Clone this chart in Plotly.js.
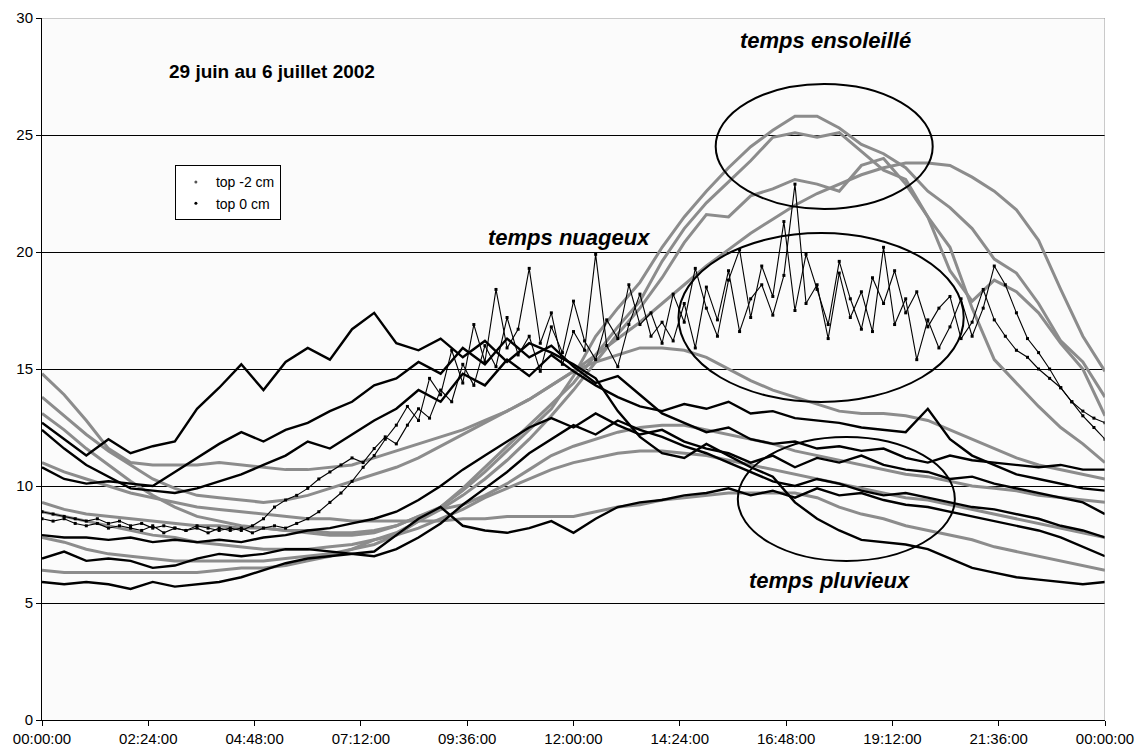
<!DOCTYPE html>
<html>
<head>
<meta charset="utf-8">
<script src="https://cdn.plot.ly/plotly-3.0.1.min.js"></script>
<style>
  html, body { margin: 0; padding: 0; background: #fff; }
  #plotly { width: 1140px; height: 753px; }
</style>
</head>
<body>
<div id="plotly"></div>
<script>
// time of day in hours (half-hour and quarter-hour readings)
var hours30 = [0,0.5,1,1.5,2,2.5,3,3.5,4,4.5,5,5.5,6,6.5,7,7.5,8,8.5,9,9.5,10,10.5,11,11.5,12,12.5,13,13.5,14,14.5,15,15.5,16,16.5,17,17.5,18,18.5,19,19.5,20,20.5,21,21.5,22,22.5,23,23.5,24];
var hours15 = [0,0.25,0.5,0.75,1,1.25,1.5,1.75,2,2.25,2.5,2.75,3,3.25,3.5,3.75,4,4.25,4.5,4.75,5,5.25,5.5,5.75,6,6.25,6.5,6.75,7,7.25,7.5,7.75,8,8.25,8.5,8.75,9,9.25,9.5,9.75,10,10.25,10.5,10.75,11,11.25,11.5,11.75,12,12.25,12.5,12.75,13,13.25,13.5,13.75,14,14.25,14.5,14.75,15,15.25,15.5,15.75,16,16.25,16.5,16.75,17,17.25,17.5,17.75,18,18.25,18.5,18.75,19,19.25,19.5,19.75,20,20.25,20.5,20.75,21,21.25,21.5,21.75,22,22.25,22.5,22.75,23,23.25,23.5,23.75,24];

var tickVals = [0,2.4,4.8,7.2,9.6,12,14.4,16.8,19.2,21.6,24];
var tickLabels = ['00:00:00','02:24:00','04:48:00','07:12:00','09:36:00','12:00:00','14:24:00','16:48:00','19:12:00','21:36:00','00:00:00'];

// top -2 cm, one day per array
var sub1 = [14.8,13.9, 12.8,11.6, 11.0,10.9, 10.9,10.9, 11.0,10.9, 10.8,10.7, 10.7,10.8, 10.9,11.2, 11.5,11.8, 12.1,12.4, 12.8,13.2, 13.7,14.3, 14.9,15.6, 16.3,17.0, 17.8,18.6, 19.4,20.1, 20.8,21.4, 22.0,22.5, 22.9,23.3, 23.6,23.8, 23.8,23.7, 23.2,22.6, 21.8,20.5, 18.4,16.4, 14.9];
var sub2 = [9.3,9.0, 8.8,8.7, 8.6,8.5, 8.4,8.3, 8.3,8.2, 8.2,8.1, 8.1,8.0, 8.0,8.1, 8.3,8.7, 9.1,9.8, 10.6,11.5, 12.4,13.3, 14.7,16.4, 17.6,18.7, 20.2,21.5, 22.6,23.6, 24.5,25.2, 25.8,25.8, 25.3,24.6, 24.2,23.6, 22.6,21.9, 21.0,19.7, 19.1,17.8, 16.2,15.3, 13.8];
var sub3 = [7.8,7.6, 7.3,7.1, 7.0,6.9, 6.8,6.8, 6.8,6.8, 6.8,6.9, 7.0,7.1, 7.3,7.5, 7.9,8.5, 9.1,9.9, 10.8,11.7, 12.6,13.5, 14.4,15.6, 16.8,17.9, 19.6,21.0, 22.1,23.0, 23.9,24.9, 25.1,24.9, 25.1,24.3, 23.5,23.1, 21.5,19.2, 17.9,18.8, 18.3,17.4, 16.1,15.0, 13.0];
var sub4 = [6.4,6.3, 6.3,6.3, 6.3,6.3, 6.3,6.3, 6.4,6.5, 6.5,6.6, 6.8,7.0, 7.3,7.7, 8.0,8.5, 9.0,9.6, 10.3,11.1, 12.0,13.0, 14.1,15.3, 16.5,17.6, 18.9,20.4, 21.6,21.5, 22.4,22.7, 23.1,22.9, 22.6,23.7, 24.0,22.9, 21.5,20.2, 17.6,15.4, 14.4,13.4, 12.5,11.8, 11.0];
var sub5 = [13.8,13.0, 12.2,11.5, 10.9,10.3, 9.9,9.6, 9.5,9.4, 9.3,9.4, 9.6,9.9, 10.2,10.5, 10.8,11.2, 11.7,12.2, 12.7,13.2, 13.7,14.3, 14.9,15.3, 15.6,15.9, 15.9,15.8, 15.5,15.0, 14.5,14.1, 13.8,13.5, 13.2,13.1, 13.1,13.0, 12.8,12.4, 12.0,11.6, 11.2,10.9, 10.7,10.5, 10.3];
var sub6 = [13.1,12.4, 11.6,10.9, 10.2,9.6, 9.1,8.7, 8.5,8.3, 8.2,8.1, 8.0,7.9, 7.9,8.0, 8.3,8.7, 9.0,9.2, 9.6,10.1, 10.7,11.3, 11.7,12.0, 12.3,12.5, 12.6,12.6, 12.4,12.2, 12.0,11.8, 11.5,11.3, 11.1,10.9, 10.7,10.5, 10.4,10.2, 10.0,9.9, 9.8,9.6, 9.5,9.4, 9.3];
var sub7 = [11.0,10.6, 10.3,10.0, 9.7,9.5, 9.3,9.1, 9.0,8.9, 8.8,8.7, 8.6,8.6, 8.5,8.5, 8.5,8.5, 8.5,8.6, 8.6,8.7, 8.7,8.7, 8.7,8.9, 9.1,9.2, 9.4,9.5, 9.6,9.7, 9.7,9.7, 9.7,9.5, 9.1,8.8, 8.6,8.3, 8.1,7.9, 7.7,7.4, 7.2,7.0, 6.8,6.6, 6.4];
var sub8 = [8.9,8.7, 8.5,8.3, 8.1,7.9, 7.8,7.6, 7.5,7.4, 7.3,7.3, 7.3,7.4, 7.5,7.7, 7.9,8.2, 8.6,9.0, 9.5,9.9, 10.3,10.7, 11.0,11.2, 11.4,11.5, 11.5,11.4, 11.3,11.1, 10.9,10.7, 10.5,10.3, 10.1,9.9, 9.7,9.5, 9.4,9.2, 9.0,8.8, 8.6,8.4, 8.2,8.0, 7.8];

// top 0 cm, one day per array
var surf1 = [12.7,12.0, 11.3,12.0, 11.4,11.7, 11.9,13.3, 14.2,15.2, 14.1,15.3, 15.9,15.4, 16.7,17.4, 16.1,15.8, 16.3,15.5, 16.2,15.3, 16.1,15.7, 15.2,14.6, 13.2,12.1, 11.4,11.2, 11.8,11.3, 10.8,10.4, 9.3,8.6, 8.1,7.7, 7.6,7.5, 7.3,6.9, 6.5,6.3, 6.1,6.0, 5.9,5.8, 5.9];
var surf2 = [12.4,11.6, 10.9,10.4, 9.9,9.8, 9.7,9.9, 10.2,10.5, 10.9,11.3, 11.9,11.6, 12.2,12.8, 13.3,14.1, 13.6,14.8, 14.3,15.4, 14.7,15.6, 14.9,14.3, 13.8,13.4, 13.2,13.5, 13.3,13.6, 13.1,13.2, 12.9,12.8, 12.7,12.5, 12.4,12.3, 13.3,12.0, 11.3,10.9, 10.5,10.3, 10.1,9.9, 9.8];
var surf5 = [10.8,10.3, 10.1,10.2, 10.1,10.0, 10.6,11.2, 11.8,12.3, 11.9,12.4, 12.7,13.2, 13.6,14.3, 14.6,15.3, 14.8,15.9, 15.2,16.3, 15.5,16.0, 15.1,14.4, 14.7,13.9, 13.1,12.7, 12.3,12.5, 12.0,11.8, 11.9,11.6, 11.7,11.5, 11.6,11.2, 11.0,11.3, 11.1,11.0, 10.9,10.8, 10.9,10.7, 10.7];
var surf6 = [7.9,7.8, 7.8,7.7, 7.8,7.6, 7.7,7.6, 7.7,7.6, 7.8,7.9, 8.1,8.2, 8.4,8.6, 8.9,9.4, 10.0,10.7, 11.3,11.9, 12.5,12.9, 12.5,13.1, 12.6,12.2, 12.4,11.9, 11.6,11.4, 11.0,11.3, 10.8,11.2, 11.0,11.3, 10.9,10.7, 10.6,10.3, 10.4,10.1, 9.9,9.7, 9.5,9.3, 8.8];
var surf7 = [5.9,5.8, 5.9,5.8, 5.6,5.9, 5.7,5.8, 5.9,6.1, 6.4,6.7, 6.9,7.0, 7.1,7.2, 7.9,8.6, 9.1,8.3, 8.1,8.0, 8.2,8.5, 8.0,8.6, 9.1,9.3, 9.4,9.6, 9.7,9.9, 9.6,9.8, 9.5,9.9, 9.6,9.7, 9.4,9.2, 9.1,8.9, 8.7,8.5, 8.3,8.1, 7.8,7.4, 7.0];
var surf8 = [6.9,7.2, 6.8,6.9, 6.8,6.5, 6.6,6.9, 7.1,7.0, 7.1,7.3, 7.3,7.2, 7.1,7.0, 7.3,7.8, 8.4,9.2, 9.9,10.6, 11.4,12.0, 12.6,12.2, 12.8,12.4, 12.1,11.7, 11.4,11.0, 10.6,10.2, 10.0,10.3, 10.1,9.8, 9.6,9.7, 9.5,9.3, 9.1,9.0, 8.8,8.6, 8.3,8.1, 7.8];
// cloudy days, read every quarter hour
var surf3 = [8.9,8.8,8.7,8.6,8.5,8.6,8.4,8.5,8.3,
  8.4,8.2,8.3,8.2,8.1,8.3,8.2,8.1,
  8.2,8.1,8.3,8.6,9.1,9.4,9.6,9.9,
  10.3,10.6,10.9,11.2,11.0,11.6,12.1,11.8,
  12.6,13.3,12.9,14.1,13.6,15.2,14.3,16.0,
  15.1,17.2,15.6,16.4,14.9,16.8,15.7,17.9,
  16.2,15.4,17.1,16.3,18.6,16.9,17.4,16.1,
  18.2,17.0,19.3,17.6,16.4,18.8,20.1,17.2,
  19.4,18.1,21.3,17.5,19.9,18.4,16.9,19.6,
  18.0,16.7,18.9,17.8,19.2,17.4,18.3,16.8,
  17.6,18.1,16.3,17.0,18.4,17.1,16.4,15.8,
  15.5,15.0,14.6,14.2,13.6,13.2,12.9,12.7];
var surf4 = [8.6,8.5,8.6,8.4,8.3,8.4,8.2,8.3,8.2,
  8.1,8.3,8.0,8.2,8.1,8.2,8.0,8.2,
  8.1,8.2,8.0,8.2,8.3,8.2,8.4,8.6,
  8.9,9.3,9.7,10.2,10.8,11.3,12.0,12.6,
  13.4,12.8,14.6,13.9,15.8,14.4,16.9,15.3,
  18.4,15.9,16.7,19.3,16.1,17.4,15.2,16.6,
  15.8,19.9,16.0,15.1,16.9,18.2,16.4,17.0,
  16.2,17.8,15.9,18.5,17.1,19.2,16.6,18.0,
  18.6,17.3,19.0,22.9,17.8,18.6,16.3,19.1,
  17.2,18.3,16.6,20.2,16.9,18.0,15.4,17.1,
  15.9,16.8,18.0,16.4,17.6,19.4,18.6,17.4,
  16.3,15.7,15.0,14.2,13.6,13.0,12.5,12.0];

var GREY = '#8c8c8c';
var traces = [];

[sub1, sub2, sub3, sub4, sub5, sub6, sub7, sub8].forEach(function (ys) {
  traces.push({
    x: hours30, y: ys, mode: 'lines', showlegend: false, hoverinfo: 'skip',
    line: { color: GREY, width: 3 }
  });
});

[surf1, surf2, surf5, surf6, surf7, surf8].forEach(function (ys) {
  traces.push({
    x: hours30, y: ys, mode: 'lines', showlegend: false, hoverinfo: 'skip',
    line: { color: '#000', width: 2.4 }
  });
});

// noisy days: thin line with square dots
[surf3, surf4].forEach(function (ys) {
  traces.push({
    x: hours15, y: ys, mode: 'lines+markers', showlegend: false, hoverinfo: 'skip',
    line: { color: '#000', width: 1.1 },
    marker: { color: '#000', size: 3, symbol: 'square' }
  });
});

// legend entries only
traces.push({ x: [null], y: [null], mode: 'markers', name: 'top -2 cm',
  marker: { color: '#555', size: 3 } });
traces.push({ x: [null], y: [null], mode: 'markers', name: 'top 0 cm',
  marker: { color: '#000', size: 3 } });

var FONT = 'Liberation Sans, Arial, sans-serif';
var bi = function (txt) { return '<b><i>' + txt + '</i></b>'; };

var layout = {
  width: 1140,
  height: 753,
  margin: { l: 42, r: 35, t: 18, b: 33 },
  paper_bgcolor: '#fff',
  plot_bgcolor: '#fbfbfb',
  font: { family: FONT, size: 15, color: '#000' },
  showlegend: true,
  legend: {
    x: 0.125, y: 0.79, xanchor: 'left', yanchor: 'top',
    bgcolor: '#fff', bordercolor: '#000', borderwidth: 1,
    font: { family: FONT, size: 14 }, itemwidth: 30, tracegroupgap: 0
  },
  xaxis: {
    range: [0, 24], tickvals: tickVals, ticktext: tickLabels,
    ticks: 'outside', ticklen: 5, tickcolor: '#000',
    showline: true, linecolor: '#000', linewidth: 1,
    showgrid: false, zeroline: false, fixedrange: true,
    tickfont: { family: FONT, size: 15 }
  },
  yaxis: {
    range: [0, 30], dtick: 5, tick0: 0,
    ticks: 'outside', ticklen: 5, tickcolor: '#000',
    showline: true, linecolor: '#000', linewidth: 1,
    showgrid: true, gridcolor: '#000', gridwidth: 1,
    zeroline: false, fixedrange: true,
    tickfont: { family: FONT, size: 15 }
  },
  shapes: [
    { type: 'line', xref: 'x', yref: 'y', x0: 0, x1: 24, y0: 30, y1: 30, line: { color: '#999', width: 1 } },
    { type: 'line', xref: 'x', yref: 'y', x0: 24, x1: 24, y0: 0, y1: 30, line: { color: '#999', width: 1 } },
    { type: 'circle', xref: 'x', yref: 'y', x0: 15.21, x1: 20.11, y0: 21.84, y1: 27.18, line: { color: '#000', width: 2 } },
    { type: 'circle', xref: 'x', yref: 'y', x0: 14.37, x1: 20.81, y0: 13.59, y1: 20.81, line: { color: '#000', width: 2 } },
    { type: 'circle', xref: 'x', yref: 'y', x0: 15.71, x1: 20.61, y0: 6.8, y1: 12.09, line: { color: '#000', width: 2 } }
  ],
  annotations: [
    { x: 5.2, y: 27.7, xref: 'x', yref: 'y', text: '<b>29 juin au 6 juillet 2002</b>', showarrow: false, font: { family: FONT, size: 19 } },
    { x: 17.7, y: 29.06, xref: 'x', yref: 'y', text: bi('temps ensoleillé'), showarrow: false, font: { family: FONT, size: 22 } },
    { x: 11.89, y: 20.6, xref: 'x', yref: 'y', text: bi('temps nuageux'), showarrow: false, font: { family: FONT, size: 22 } },
    { x: 17.79, y: 5.98, xref: 'x', yref: 'y', text: bi('temps pluvieux'), showarrow: false, font: { family: FONT, size: 22 } }
  ]
};

Plotly.newPlot('plotly', traces, layout, { displayModeBar: false, staticPlot: true });
</script>
</body>
</html>
